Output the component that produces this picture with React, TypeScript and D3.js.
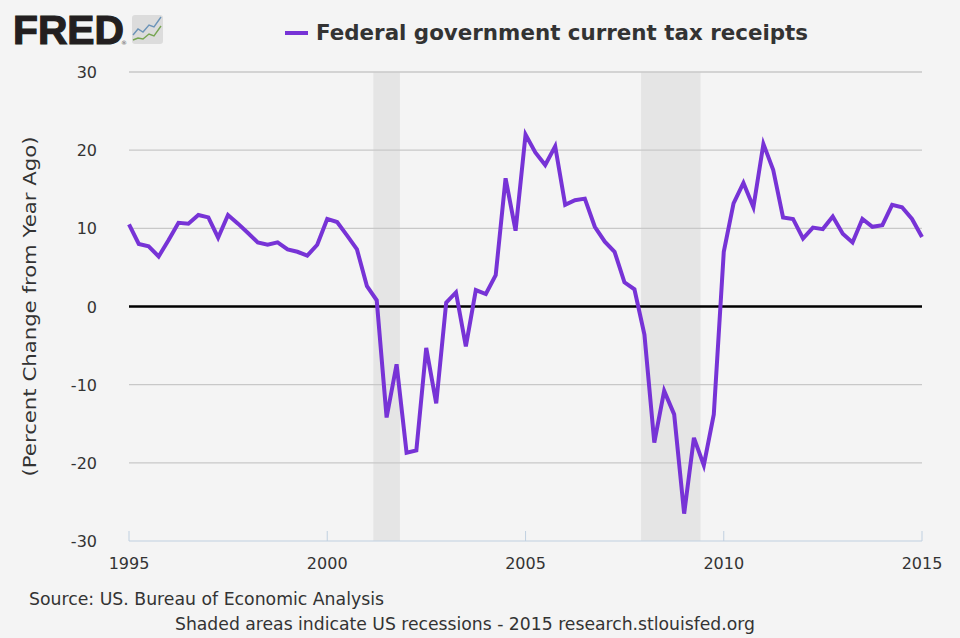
import React from "react";
import * as d3 from "d3";

const startDate = "1995-01-01";
const values: number[] = [
  10.5, 8.0, 7.7, 6.4,
  8.5, 10.7, 10.6, 11.7,
  11.4, 8.8, 11.7, 10.6,
  9.4, 8.2, 7.9, 8.2,
  7.3, 7.0, 6.5, 7.9,
  11.2, 10.8, 9.1, 7.3,
  2.6, 0.8, -14.2, -7.4,
  -18.7, -18.4, -5.3, -12.4,
  0.5, 1.8, -5.1, 2.1,
  1.6, 4.0, 16.4, 9.7,
  22.0, 19.7, 18.1, 20.5,
  13.0, 13.6, 13.8, 10.2,
  8.3, 7.0, 3.1, 2.2,
  -3.6, -17.4, -10.8, -13.8,
  -26.5, -16.8, -20.3, -13.8,
  7.0, 13.2, 15.8, 12.7,
  20.8, 17.5, 11.4, 11.2,
  8.7, 10.1, 9.9, 11.5,
  9.3, 8.2, 11.2, 10.2,
  10.4, 13.0, 12.7, 11.2,
  8.9,
];
const recessions: [string, string][] = [
  ["2001-03-01", "2001-11-01"],
  ["2007-12-01", "2009-06-01"],
];
const yTicks = [-30, -20, -10, 0, 10, 20, 30];
const xTickYears = [1995, 2000, 2005, 2010, 2015];
const seriesName = "Federal government current tax receipts";
const yTitle = "(Percent Change from Year Ago)";
const sourceText = "Source: US. Bureau of Economic Analysis";
const footText = "Shaded areas indicate US recessions - 2015 research.stlouisfed.org";

const W = 960, H = 638;
const L = 129, R = 922, T = 72, B = 541;
const PURPLE = "#7733d6";
const FONT = "'DejaVu Sans', Verdana, sans-serif";

export default function App() {
  const parse = d3.timeParse("%Y-%m-%d");
  const start = parse(startDate)!;
  const data = values.map((v, i) => ({ date: d3.timeMonth.offset(start, 3 * i), v }));
  const x = d3.scaleTime().domain([start, new Date(2015, 0, 1)]).range([L, R]);
  const y = d3.scaleLinear().domain([-30, 30]).range([B, T]);
  const line = d3.line<{ date: Date; v: number }>().x(d => x(d.date)).y(d => y(d.v));

  return (
    <svg width={W} height={H} style={{ position: "absolute", left: 0, top: 0, background: "#f4f4f4" }}>
      <rect x={0} y={0} width={W} height={H} fill="#f4f4f4" />
      {/* Logo */}
      <text x={13} y={44} fontFamily="'Liberation Sans', Arial, sans-serif" fontWeight={900} fontSize={40} fill="#231f20" textLength={111} lengthAdjust="spacingAndGlyphs" stroke="#231f20" strokeWidth={1.2}>FRED</text>
      <text x={121} y={45} fontFamily="'DejaVu Sans', sans-serif" fontSize={6} fill="#555">®</text>
      <g>
        <rect x={132} y={15} width={31} height={29} rx={3} fill="#dcdcdc" />
        <polyline points="133,35 138,29 143,32 149,25 154,27 161,17" fill="none" stroke="#6c94b8" strokeWidth={1.4} />
        <polyline points="133,40 138,38 143,39 149,34 154,36 161,26" fill="none" stroke="#76a551" strokeWidth={1.4} />
      </g>
      {/* Legend */}
      <line x1={285} x2={308} y1={33} y2={33} stroke={PURPLE} strokeWidth={4} />
      <text x={316} y={40} fontFamily={FONT} fontWeight="bold" fontSize={21} fill="#333" textLength={492} lengthAdjust="spacingAndGlyphs">{seriesName}</text>

      {/* Recessions */}
      {recessions.map(([a, b], i) => (
        <rect key={i} x={x(parse(a)!)} y={T} width={x(parse(b)!) - x(parse(a)!)} height={B - T} fill="#e5e5e5" />
      ))}
      {/* Grid */}
      {yTicks.filter(t => t !== 0 && t !== -30).map(t => (
        <line key={t} x1={L} x2={R} y1={y(t)} y2={y(t)} stroke="#c8c8c8" strokeWidth={1.3} />
      ))}
      {/* y labels */}
      {yTicks.map(t => (
        <text key={t} x={97} y={y(t) + 6} textAnchor="end" fontFamily={FONT} fontSize={16} fill="#333">{t}</text>
      ))}
      {/* x axis */}
      <line x1={L} x2={R} y1={B} y2={B} stroke="#c0d0e0" strokeWidth={1} />
      {xTickYears.map(yr => {
        const xx = x(new Date(yr, 0, 1));
        return (
          <g key={yr}>
            <line x1={xx} x2={xx} y1={B} y2={B - 10} stroke="#c0d0e0" strokeWidth={1} />
            <text x={xx} y={569} textAnchor="middle" fontFamily={FONT} fontSize={16} fill="#333">{yr}</text>
          </g>
        );
      })}
      <text transform={`translate(36,${(T + B) / 2}) rotate(-90)`} textAnchor="middle" fontFamily={FONT} fontSize={17} fill="#333" textLength={340} lengthAdjust="spacingAndGlyphs">{yTitle}</text>

      {/* zero line */}
      <line x1={L} x2={R} y1={y(0)} y2={y(0)} stroke="#000" strokeWidth={2.5} />
      {/* series */}
      <path d={line(data)!} fill="none" stroke={PURPLE} strokeWidth={4} strokeLinejoin="miter" />

      <text x={29} y={605} fontFamily={FONT} fontSize={17} fill="#333" textLength={355} lengthAdjust="spacingAndGlyphs">{sourceText}</text>
      <text x={175} y={630} fontFamily={FONT} fontSize={17} fill="#333" textLength={580} lengthAdjust="spacingAndGlyphs">{footText}</text>
    </svg>
  );
}
